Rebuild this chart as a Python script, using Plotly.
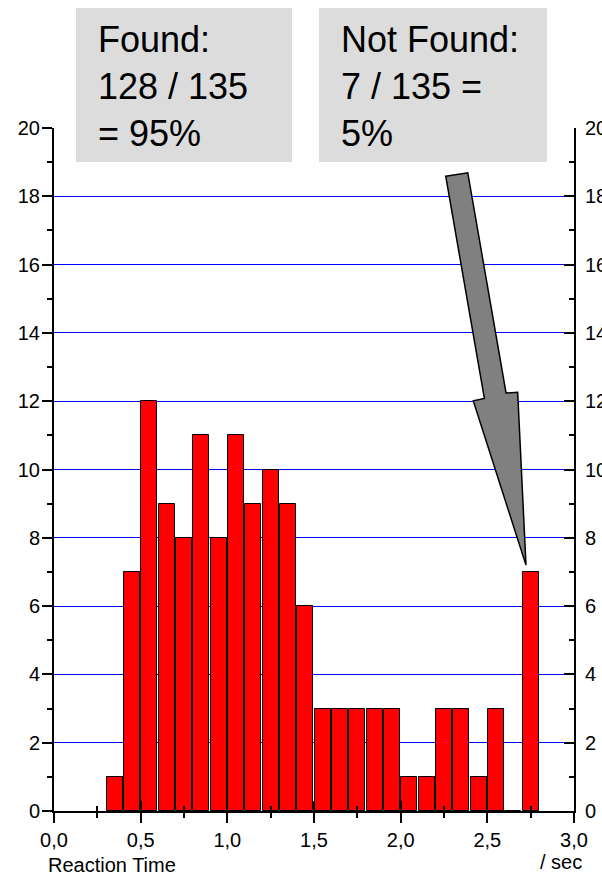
import plotly.graph_objects as go

# ---- data ----
bin_starts = [0.3, 0.4, 0.5, 0.6, 0.7, 0.8, 0.9, 1.0, 1.1, 1.2, 1.3, 1.4, 1.5,
              1.6, 1.7, 1.8, 1.9, 2.0, 2.1, 2.2, 2.3, 2.4, 2.5, 2.6, 2.7]
counts = [1, 7, 12, 9, 8, 11, 8, 11, 9, 10, 9, 6, 3,
          3, 3, 3, 3, 1, 1, 3, 3, 1, 3, 0, 7]
bin_width = 0.1
x_tick_vals = [0.0, 0.5, 1.0, 1.5, 2.0, 2.5, 3.0]
x_tick_text = ["0,0", "0,5", "1,0", "1,5", "2,0", "2,5", "3,0"]
y_tick_vals = [0, 2, 4, 6, 8, 10, 12, 14, 16, 18, 20]
found_text = "Found:<br>128 / 135<br>= 95%"
notfound_text = "Not Found:<br>7 / 135 =<br>5%"

W, H = 602, 877
ML, MR, MT, MB = 54, 28, 128, 66
PW, PH = W - ML - MR, H - MT - MB


def px_x(px):
    return (px - ML) / PW


def px_y(py):
    return (H - MB - py) / PH


FONT = "Arial, Liberation Sans, sans-serif"

centers = [s + bin_width / 2 for s in bin_starts]

fig = go.Figure()
fig.add_trace(go.Bar(
    x=centers, y=counts, width=0.092,
    marker=dict(color="#ff0000", line=dict(color="black", width=1)),
    showlegend=False, hoverinfo="skip",
))
fig.add_trace(go.Scatter(x=[], y=[], xaxis="x2", yaxis="y2", showlegend=False))

axis_common = dict(showline=True, linecolor="black", linewidth=2,
                   tickcolor="black", tickwidth=2, automargin=False,
                   tickfont=dict(family=FONT, size=20, color="black"))

fig.update_layout(
    width=W, height=H,
    margin=dict(l=ML, r=MR, t=MT, b=MB, pad=0, autoexpand=False),
    plot_bgcolor="white", paper_bgcolor="white",
    font=dict(family=FONT, size=20, color="black"),
    bargap=0,
    xaxis=dict(range=[0, 3], tickvals=x_tick_vals, ticktext=x_tick_text,
               ticks="outside", ticklen=10, showgrid=False, zeroline=False,
               minor=dict(dtick=0.25, tick0=0, ticks="outside", ticklen=5,
                          tickwidth=2, tickcolor="black", showgrid=False),
               **axis_common),
    yaxis=dict(range=[0, 20], tickvals=y_tick_vals, ticks="outside", ticklen=10,
               showgrid=True, gridcolor="#0000ff", gridwidth=1, zeroline=False,
               ticklabelstandoff=-2,
               minor=dict(dtick=1, tick0=0, ticks="outside", ticklen=5,
                          tickwidth=2, tickcolor="black", showgrid=False),
               **axis_common),
    xaxis2=dict(range=[0, 3], overlaying="x", anchor="y2", tickvals=x_tick_vals,
                showticklabels=False, ticks="inside", ticklen=10, tickwidth=2,
                tickcolor="black", showline=False, showgrid=False, zeroline=False,
                automargin=False,
                minor=dict(dtick=0.25, tick0=0, ticks="inside", ticklen=5,
                           tickwidth=2, tickcolor="black", showgrid=False)),
    yaxis2=dict(range=[0, 20], overlaying="y", side="right", anchor="x2",
                tickvals=y_tick_vals, ticks="inside", ticklen=10, showgrid=False,
                zeroline=False, ticklabelstandoff=5,
                minor=dict(dtick=1, tick0=0, ticks="inside", ticklen=5,
                           tickwidth=2, tickcolor="black", showgrid=False),
                **axis_common),
)

# grey info boxes
fig.add_shape(type="rect", xref="paper", yref="paper",
              x0=px_x(76), x1=px_x(292), y0=px_y(162), y1=px_y(8),
              fillcolor="#dcdcdc", line=dict(width=0), layer="above")
fig.add_shape(type="rect", xref="paper", yref="paper",
              x0=px_x(319), x1=px_x(547), y0=px_y(162), y1=px_y(8),
              fillcolor="#dcdcdc", line=dict(width=0), layer="above")

fig.add_annotation(text=found_text, xref="paper", yref="paper",
                   x=px_x(96), y=px_y(17), xanchor="left", yanchor="top",
                   align="left", showarrow=False,
                   font=dict(family=FONT, size=36, color="black"))
fig.add_annotation(text=notfound_text, xref="paper", yref="paper",
                   x=px_x(339), y=px_y(17), xanchor="left", yanchor="top",
                   align="left", showarrow=False,
                   font=dict(family=FONT, size=36, color="black"))

# block arrow pointing at the last (not found) bar
tx = centers[-1] - 0.027
ty = counts[-1] + 0.2
arrow_pts = [(-0.463, 11.39), (-0.336, 11.49), (-0.115, 5.04), (-0.048, 5.06),
             (0.0, 0.0), (-0.304, 4.81), (-0.240, 4.88)]
path = "M " + " L ".join(f"{tx + dx:.4f},{ty + dy:.4f}" for dx, dy in arrow_pts) + " Z"
fig.add_shape(type="path", xref="x", yref="y", path=path,
              fillcolor="#808080", line=dict(color="black", width=1.5), layer="above")

fig.add_annotation(text="Reaction Time", xref="paper", yref="paper",
                   x=px_x(46), y=px_y(865), xanchor="left", yanchor="middle",
                   showarrow=False, font=dict(family=FONT, size=20, color="black"))
fig.add_annotation(text="/ sec", xref="paper", yref="paper",
                   x=px_x(584), y=px_y(862), xanchor="right", yanchor="middle",
                   showarrow=False, font=dict(family=FONT, size=20, color="black"))

fig.write_html(
    "out.html",
    config={"displayModeBar": False},
    post_script="document.body.style.margin='0';document.body.style.overflow='hidden';",
)
